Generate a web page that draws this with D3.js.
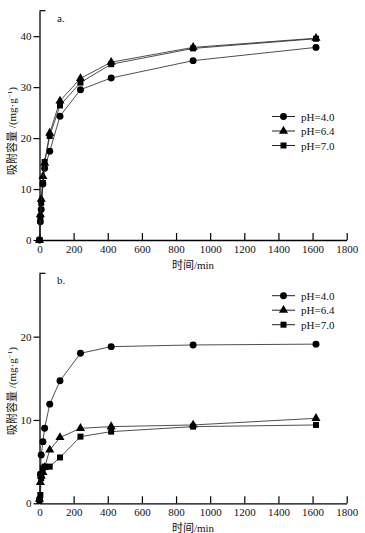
<!DOCTYPE html>
<html>
<head>
<meta charset="utf-8">
<script src="https://cdn.jsdelivr.net/npm/d3@7"></script>
<style>
  body { margin: 0; background: #fff; }
  svg text { font-family: "Liberation Serif", "Noto Sans CJK SC", serif; fill: #111; }
  .tick-label { font-size: 11px; }
  .axis-title { font-size: 11px; }
</style>
</head>
<body>
<div id="container"></div>
<script>
/* DATA */
const times = [0, 5, 10, 20, 30, 60, 120, 240, 420, 900, 1620];
const seriesNames = ["pH=4.0", "pH=6.4", "pH=7.0"];
const markers = ["circle", "triangle", "square"];

// panel a
const aPH40 = [0, 3.6, 6.0, 11.0, 14.1, 17.4, 24.3, 29.5, 31.8, 35.2, 37.8];
const aPH64 = [0, 5.0, 8.0, 12.5, 15.1, 21.0, 27.3, 31.7, 34.9, 37.8, 39.6];
const aPH70 = [0, 4.5, 7.3, 11.2, 15.3, 20.4, 26.4, 30.9, 34.5, 37.6, 39.5];
// panel b
const bPH40 = [0.5, 3.5, 5.8, 7.4, 9.0, 11.9, 14.7, 18.0, 18.8, 19.0, 19.1];
const bPH64 = [0.5, 2.5, 3.3, 3.7, 4.3, 6.4, 7.9, 9.0, 9.2, 9.4, 10.2];
const bPH70 = [0.3, 1.0, 3.0, 4.2, 4.4, 4.4, 5.5, 8.0, 8.6, 9.2, 9.4];

const xTicks = [0, 200, 400, 600, 800, 1000, 1200, 1400, 1600, 1800];
const aYTicks = [0, 10, 20, 30, 40];
const bYTicks = [0, 10, 20];

/* CONSTANTS */
const width = 365, height = 533;
const left = 39.5, right = 346.7;
const serif = '"Liberation Serif", "Noto Sans CJK SC", serif';

const svg = d3.select("#container")
  .append("svg")
  .attr("width", width)
  .attr("height", height);

function drawPanel(cfg) {
  const g = svg.append("g");

  const x = d3.scaleLinear().domain([0, 1800]).range([left, right]);
  const y = d3.scaleLinear().domain([0, cfg.yMax]).range([cfg.bottom, cfg.top]);

  // x axis, ticks point inward
  const xAxis = g.append("g")
    .attr("transform", `translate(0, ${cfg.bottom})`)
    .call(d3.axisBottom(x).tickValues(xTicks).tickFormat(d3.format("d"))
      .tickSize(-7).tickPadding(5).tickSizeOuter(0))
    .attr("font-family", serif).attr("font-size", 11);
  xAxis.select(".domain").attr("stroke-width", 1.3);
  xAxis.selectAll(".tick line").attr("stroke-width", 1.2);
  xAxis.selectAll("text").attr("class", "tick-label");

  // y axis, ticks point outward
  const yAxis = g.append("g")
    .attr("transform", `translate(${left}, 0)`)
    .call(d3.axisLeft(y).tickValues(cfg.yTicks).tickFormat(d3.format("d"))
      .tickSize(6).tickPadding(2).tickSizeOuter(0))
    .attr("font-family", serif).attr("font-size", 11);
  yAxis.select(".domain").attr("stroke-width", 1.3);
  yAxis.selectAll(".tick line").attr("stroke-width", 1.2);
  yAxis.selectAll("text").attr("class", "tick-label");

  // top cap
  g.append("line")
    .attr("x1", left).attr("x2", left + 6)
    .attr("y1", y(cfg.yMax)).attr("y2", y(cfg.yMax))
    .attr("stroke", "#000").attr("stroke-width", 1.2);

  // panel letter
  g.append("text")
    .attr("x", 57).attr("y", y(cfg.yMax) + 11)
    .attr("font-size", 11)
    .text(cfg.letter);

  // axis titles
  g.append("text")
    .attr("class", "axis-title")
    .attr("text-anchor", "middle")
    .attr("x", 193).attr("y", cfg.bottom + 29)
    .text("时间/min");

  const yt = g.append("text")
    .attr("class", "axis-title")
    .attr("text-anchor", "middle")
    .attr("transform", `translate(16, ${cfg.yTitleY}) rotate(-90)`);
  yt.append("tspan").text("吸附容量 /(mg·g");
  yt.append("tspan").attr("font-size", 7).attr("dy", -4).text("−1");
  yt.append("tspan").attr("dy", 4).text(")");

  const line = d3.line().x((d, i) => x(times[i])).y(d => y(d));
  const sym = {
    circle: d3.symbol().type(d3.symbolCircle).size(38),
    triangle: d3.symbol().type(d3.symbolTriangle).size(36),
    square: d3.symbol().type(d3.symbolSquare).size(36)
  };

  cfg.series.forEach((vals, s) => {
    g.append("path")
      .datum(vals)
      .attr("d", line)
      .attr("fill", "none")
      .attr("stroke", "#222")
      .attr("stroke-width", 0.8);
    g.selectAll(null)
      .data(vals)
      .join("path")
      .attr("d", sym[markers[s]])
      .attr("transform", (d, i) => `translate(${x(times[i])}, ${y(d)})`)
      .attr("fill", "#000");
  });

  // legend
  seriesNames.forEach((name, s) => {
    const ly = cfg.legendY + s * 14.5;
    g.append("line")
      .attr("x1", 272).attr("x2", 295)
      .attr("y1", ly).attr("y2", ly)
      .attr("stroke", "#222").attr("stroke-width", 1);
    g.append("path")
      .attr("d", sym[markers[s]])
      .attr("transform", `translate(283.5, ${ly})`)
      .attr("fill", "#000");
    g.append("text")
      .attr("class", "tick-label")
      .attr("x", 301).attr("y", ly + 4)
      .text(name);
  });
}

drawPanel({
  letter: "a.", top: 10.7, bottom: 240, yMax: 45, yTicks: aYTicks,
  series: [aPH40, aPH64, aPH70], legendY: 116.5, yTitleY: 131
});

drawPanel({
  letter: "b.", top: 273.3, bottom: 503.3, yMax: 27.6, yTicks: bYTicks,
  series: [bPH40, bPH64, bPH70], legendY: 295.7, yTitleY: 391
});
</script>
</body>
</html>
